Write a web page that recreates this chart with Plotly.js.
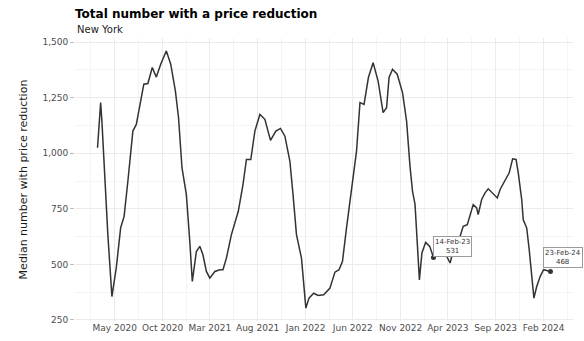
<!DOCTYPE html>
<html>
<head>
<meta charset="utf-8">
<script src="https://cdn.plot.ly/plotly-3.0.1.min.js"></script>
<style>
html,body{margin:0;padding:0;background:#fff;}
#chart{width:584px;height:341px;}
</style>
</head>
<body>
<div id="chart"></div>
<script>
// ---- data ----
const dates = [
'2020-03-07','2020-03-17','2020-03-21','2020-03-30','2020-04-09','2020-04-22','2020-05-06','2020-05-20','2020-05-31','2020-06-12',
'2020-06-28','2020-07-09','2020-07-20','2020-08-02','2020-08-15','2020-08-29','2020-09-11','2020-09-25','2020-10-13','2020-10-27',
'2020-11-11','2020-11-21','2020-12-02','2020-12-16','2020-12-27','2021-01-04','2021-01-17','2021-01-28','2021-02-07','2021-02-18',
'2021-03-01','2021-03-17','2021-04-02','2021-04-12','2021-04-23','2021-05-09','2021-05-31','2021-06-15','2021-06-26','2021-07-10',
'2021-07-23','2021-08-08','2021-08-24','2021-09-11','2021-09-28','2021-10-13','2021-10-27','2021-11-12','2021-11-22','2021-12-03',
'2021-12-19','2022-01-02','2022-01-12','2022-01-27','2022-02-10','2022-02-28','2022-03-20','2022-04-05','2022-04-18','2022-04-29',
'2022-05-12','2022-05-23','2022-06-02','2022-06-13','2022-06-24','2022-07-07','2022-07-21','2022-08-05','2022-08-21','2022-09-06',
'2022-09-17','2022-09-25','2022-10-06','2022-10-21','2022-11-07','2022-11-20','2022-12-01','2022-12-09','2022-12-17','2022-12-24',
'2022-12-31','2023-01-08','2023-01-20','2023-02-02','2023-02-14','2023-03-01','2023-03-20','2023-04-08','2023-04-18','2023-05-10',
'2023-05-20','2023-06-02','2023-06-11','2023-06-21','2023-07-02','2023-07-07','2023-07-18','2023-07-29','2023-08-08','2023-08-22',
'2023-09-06','2023-09-15','2023-10-01','2023-10-14','2023-10-25','2023-11-05','2023-11-12','2023-11-23','2023-11-28','2023-12-09',
'2023-12-17','2023-12-25','2024-01-01','2024-01-10','2024-01-21','2024-02-01','2024-02-23'
];
const reductions = [
1025,1228,1145,904,634,355,485,665,716,874,
1100,1130,1220,1311,1314,1386,1343,1401,1461,1401,
1280,1160,935,814,603,423,558,581,543,468,
438,468,476,476,528,634,739,859,972,972,
1100,1175,1153,1058,1100,1112,1077,964,814,634,
528,303,348,370,360,363,393,465,476,513,
664,784,874,1010,1228,1220,1341,1408,1325,1183,
1205,1341,1378,1356,1273,1145,940,829,770,611,
430,551,599,581,531,575,560,506,560,626,
671,679,724,769,754,724,792,822,840,822,
799,837,882,912,975,972,912,792,701,664,
566,430,348,400,445,476,468
];
const highlightDates = ['2023-02-14','2024-02-23'];
const tickDates = ['2020-05-01','2020-10-01','2021-03-01','2021-08-01','2022-01-01','2022-06-01','2022-11-01','2023-04-01','2023-09-01','2024-02-01'];
const tickLabels = ['May 2020','Oct 2020','Mar 2021','Aug 2021','Jan 2022','Jun 2022','Nov 2022','Apr 2023','Sep 2023','Feb 2024'];
const yTicks = [250,500,750,1000,1250,1500];
const titleText = 'Total number with a price reduction';
const subtitleText = 'New York';
const yTitleText = 'Median number with price reduction';

// ---- helpers ----
const MON = ['Jan','Feb','Mar','Apr','May','Jun','Jul','Aug','Sep','Oct','Nov','Dec'];
function fmtDate(s){
  const p = s.split('-');
  return p[2] + '-' + MON[parseInt(p[1],10)-1] + '-' + p[0].slice(2);
}
function ms(s){ return new Date(s + 'T00:00:00Z').getTime(); }
function iso(t){ return new Date(t).toISOString().slice(0,10); }
// minor grid at midpoints between major ticks
const minorX = [];
for (let i=0;i<tickDates.length-1;i++){
  minorX.push(iso((ms(tickDates[i])+ms(tickDates[i+1]))/2));
}
minorX.unshift(iso(ms(tickDates[0]) - (ms(tickDates[1])-ms(tickDates[0]))/2));
minorX.push(iso(ms(tickDates[tickDates.length-1]) + (ms(tickDates[1])-ms(tickDates[0]))/2));
const minorY = [];
for (let i=0;i<yTicks.length-1;i++) minorY.push((yTicks[i]+yTicks[i+1])/2);

const hlValues = highlightDates.map(d => reductions[dates.indexOf(d)]);

const traces = [
  {
    x: dates, y: reductions, type:'scatter', mode:'lines',
    line:{color:'#333333', width:1.5},
    hoverinfo:'skip', showlegend:false
  },
  {
    x: highlightDates, y: hlValues, type:'scatter', mode:'markers',
    marker:{color:'#333333', size:5},
    hoverinfo:'skip', showlegend:false
  }
];

const boxShift = [{xs:0, ys:0},{xs:-7, ys:3}];
const annotations = [
  {
    text: subtitleText, xref:'paper', yref:'paper', x:0, y:1.03,
    xanchor:'left', yanchor:'middle', showarrow:false,
    font:{family:'DejaVu Sans', size:10, color:'#222222'}
  }
].concat(highlightDates.map((d,i)=>({
  text: fmtDate(d) + '<br>' + hlValues[i],
  x: d, y: hlValues[i], xref:'x', yref:'y',
  xanchor:'left', yanchor:'bottom', showarrow:false,
  xshift: boxShift[i].xs, yshift: boxShift[i].ys,
  bgcolor:'#ffffff', bordercolor:'#9a9a9a', borderwidth:1, borderpad:1,
  font:{family:'DejaVu Sans', size:7, color:'#333333'}, align:'center'
})));

const layout = {
  width:584, height:341,
  margin:{l:75, r:11, t:38, b:20, pad:0},
  paper_bgcolor:'#ffffff', plot_bgcolor:'#ffffff',
  font:{family:'DejaVu Sans', size:9, color:'#4d4d4d'},
  title:{
    text: titleText,
    font:{family:'DejaVu Sans', size:12, weight:700, color:'#000000'},
    xref:'container', x:75/584, xanchor:'left',
    yref:'container', y:1-14/341, yanchor:'middle'
  },
  showlegend:false,
  annotations: annotations,
  xaxis:{
    type:'date', range:['2019-12-26','2024-05-05'],
    tickmode:'array', tickvals: tickDates, ticktext: tickLabels, tickangle:0,
    tickfont:{family:'DejaVu Sans', size:9, color:'#4d4d4d'},
    showgrid:true, gridcolor:'#ebebeb', gridwidth:1,
    zeroline:false, showline:false, ticks:'',
    minor:{tickmode:'array', tickvals:minorX, showgrid:true, gridcolor:'#f4f4f4', gridwidth:1},
    fixedrange:true
  },
  yaxis:{
    range:[245,1519],
    tickmode:'array', tickvals:yTicks, tickformat:',d',
    tickfont:{family:'DejaVu Sans', size:9, color:'#4d4d4d'},
    ticks:'outside', ticklen:4, tickcolor:'#bdbdbd', tickwidth:1,
    showgrid:true, gridcolor:'#ebebeb', gridwidth:1,
    zeroline:false, showline:false,
    minor:{tickmode:'array', tickvals:minorY, showgrid:true, gridcolor:'#f4f4f4', gridwidth:1},
    title:{text:yTitleText, font:{family:'DejaVu Sans', size:11, color:'#1a1a1a'}, standoff:12},
    automargin:false,
    fixedrange:true
  }
};

Plotly.newPlot('chart', traces, layout, {staticPlot:true, displayModeBar:false});
</script>
</body>
</html>
